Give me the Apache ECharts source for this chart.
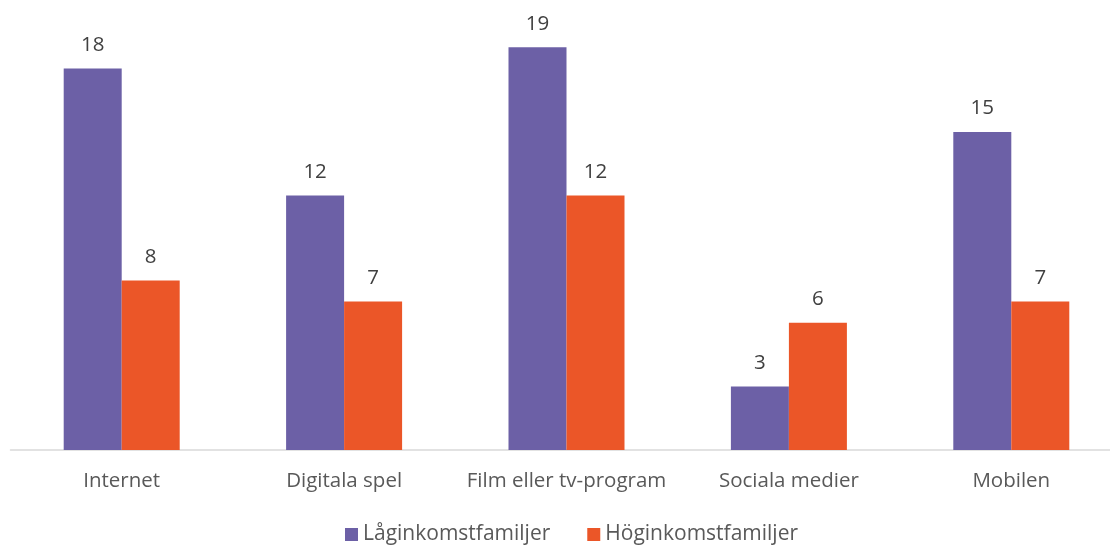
<!DOCTYPE html>
<html>
<head>
<meta charset="utf-8">
<script src="https://cdn.jsdelivr.net/npm/echarts@6/dist/echarts.min.js"></script>
<style>
  html, body { margin: 0; padding: 0; background: #fff; }
  #chart { width: 1110px; height: 547px; }
</style>
</head>
<body>
<div id="chart"></div>
<script>
const categories = ['Internet', 'Digitala spel', 'Film eller tv-program', 'Sociala medier', 'Mobilen'];
const lowIncome = [18, 12, 19, 3, 15];
const highIncome = [8, 7, 12, 6, 7];
const seriesNames = ['Låginkomstfamiljer', 'Höginkomstfamiljer'];

const FONT = 'Open Sans';
const chart = echarts.init(document.getElementById('chart'));

const labelStyle = {
  show: true,
  position: 'top',
  distance: 13,
  color: '#404040',
  fontFamily: FONT,
  fontSize: 20.5
};

chart.setOption({
  animation: false,
  textStyle: { fontFamily: FONT },
  // plot area runs slightly past the right edge of the canvas
  grid: {
    left: 10.5, width: 1112, top: 26, bottom: 97,
    containLabel: false, outerBoundsMode: 'none'
  },
  legend: {
    data: seriesNames,
    top: 519,
    left: 340,
    itemWidth: 13,
    itemHeight: 13,
    itemGap: 37,
    icon: 'rect',
    textStyle: { color: '#595959', fontFamily: FONT, fontSize: 21 }
  },
  xAxis: {
    type: 'category',
    data: categories,
    axisTick: { show: false },
    axisLine: { lineStyle: { color: '#d9d9d9', width: 1.5 } },
    axisLabel: {
      color: '#595959', fontFamily: FONT, fontSize: 20.5, margin: 21,
      interval: 0, hideOverlap: false
    }
  },
  yAxis: {
    type: 'value',
    min: 0,
    max: 20,
    show: false,
    splitLine: { show: false }
  },
  series: [
    {
      name: seriesNames[0],
      type: 'bar',
      data: lowIncome,
      barWidth: 58,
      barGap: '0%',
      itemStyle: { color: '#6C60A6' },
      label: labelStyle
    },
    {
      name: seriesNames[1],
      type: 'bar',
      data: highIncome,
      barWidth: 58,
      itemStyle: { color: '#EB5628' },
      label: labelStyle
    }
  ]
});
</script>
</body>
</html>
